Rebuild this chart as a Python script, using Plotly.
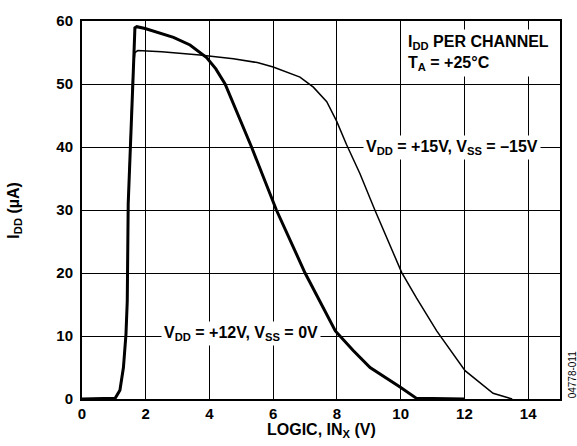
import plotly.graph_objects as go

# VDD = +12V, VSS = 0V (thick curve)
v12_x = [0, 1.04, 1.19, 1.30, 1.38, 1.42, 1.45, 1.51, 1.61, 1.66, 1.72, 1.98, 2.87, 3.39, 3.91,
         4.2, 4.49, 5.32, 6.1, 7.0, 7.95, 8.51, 9.04, 9.98, 10.5, 12.0]
v12_y = [0, 0.1, 1.4, 5.0, 10.3, 15.5, 31.0, 40.0, 52.0, 58.9, 59.1, 58.8, 57.4, 56.2, 54.2,
         52.4, 50.0, 40.0, 30.0, 20.0, 10.8, 7.7, 5.0, 1.9, 0.1, 0]

# VDD = +15V, VSS = -15V (thin curve)
v15_x = [0, 1.04, 1.19, 1.30, 1.38, 1.42, 1.45, 1.51, 1.60, 1.66, 1.75, 2.5, 3.7, 4.75, 5.5,
         6.0, 6.5, 6.84, 7.26, 7.68, 7.99, 8.30, 8.72, 9.19, 10.03, 10.5, 11.13, 12.02, 12.9, 13.5]
v15_y = [0, 0.1, 1.4, 5.0, 10.3, 15.5, 31.0, 40.0, 52.0, 55.0, 55.3, 55.1, 54.6, 54.0, 53.4,
         52.7, 51.8, 51.1, 49.5, 47.2, 44.1, 40.4, 35.8, 30.0, 20.1, 16.0, 10.8, 4.5, 0.9, 0]

x_ticks = [0, 2, 4, 6, 8, 10, 12, 14]
y_ticks = [0, 10, 20, 30, 40, 50, 60]

FONT = "Liberation Sans, Arial, Helvetica, sans-serif"

fig = go.Figure()
fig.add_trace(go.Scatter(x=v15_x, y=v15_y, mode="lines",
                         line=dict(color="black", width=1.5), showlegend=False))
fig.add_trace(go.Scatter(x=v12_x, y=v12_y, mode="lines",
                         line=dict(color="black", width=3), showlegend=False))

tfont = dict(family=FONT, size=15, color="black", weight="bold")
axis_common = dict(showgrid=True, gridcolor="black", gridwidth=1,
                   showline=True, linecolor="black", linewidth=2, mirror=True,
                   zeroline=False, ticks="", tickfont=tfont)

fig.update_xaxes(range=[0, 15], tickvals=x_ticks, ticktext=[str(v) for v in x_ticks],
                 **axis_common)
fig.update_yaxes(range=[0, 60], tickvals=y_ticks, ticktext=[str(v) for v in y_ticks],
                 ticklabelstandoff=4, **axis_common)

afont = dict(family=FONT, size=16, color="black", weight="bold")

annotations = [
    dict(x=5.0, y=10.4, xref="x", yref="y", showarrow=False,
         text="V<sub>DD</sub> = +12V, V<sub>SS</sub> = 0V",
         font=afont, bgcolor="white", borderpad=2, xanchor="center", yanchor="middle"),
    dict(x=11.6, y=40.0, xref="x", yref="y", showarrow=False,
         text="V<sub>DD</sub> = +15V, V<sub>SS</sub> = \u201315V",
         font=afont, bgcolor="white", borderpad=2, xanchor="center", yanchor="middle"),
    dict(x=10.1, y=55.0, xref="x", yref="y", showarrow=False, align="left",
         text="I<sub>DD</sub> PER CHANNEL<br>T<sub>A</sub> = +25\u00b0C",
         font=afont, bgcolor="white", borderpad=3, xanchor="left", yanchor="middle"),
    dict(x=0.5, y=-0.084, xref="paper", yref="paper", showarrow=False,
         text="LOGIC, IN<sub>X</sub> (V)", font=afont, xanchor="center", yanchor="middle"),
    dict(x=-0.143, y=0.5, xref="paper", yref="paper", showarrow=False, textangle=-90,
         text="I<sub>DD</sub> (\u00b5A)", font=afont, xanchor="center", yanchor="middle"),
    dict(x=1.027, y=0.065, xref="paper", yref="paper", showarrow=False, textangle=-90,
         text="04778-011", font=dict(family=FONT, size=10, color="black"),
         xanchor="center", yanchor="middle"),
]

fig.update_layout(
    width=577, height=446,
    margin=dict(l=82, r=17, t=15, b=47),
    paper_bgcolor="white", plot_bgcolor="white",
    annotations=annotations,
    showlegend=False,
)

fig.write_html("out.html", config={"displayModeBar": False},
               post_script="document.body.style.margin='0';")
